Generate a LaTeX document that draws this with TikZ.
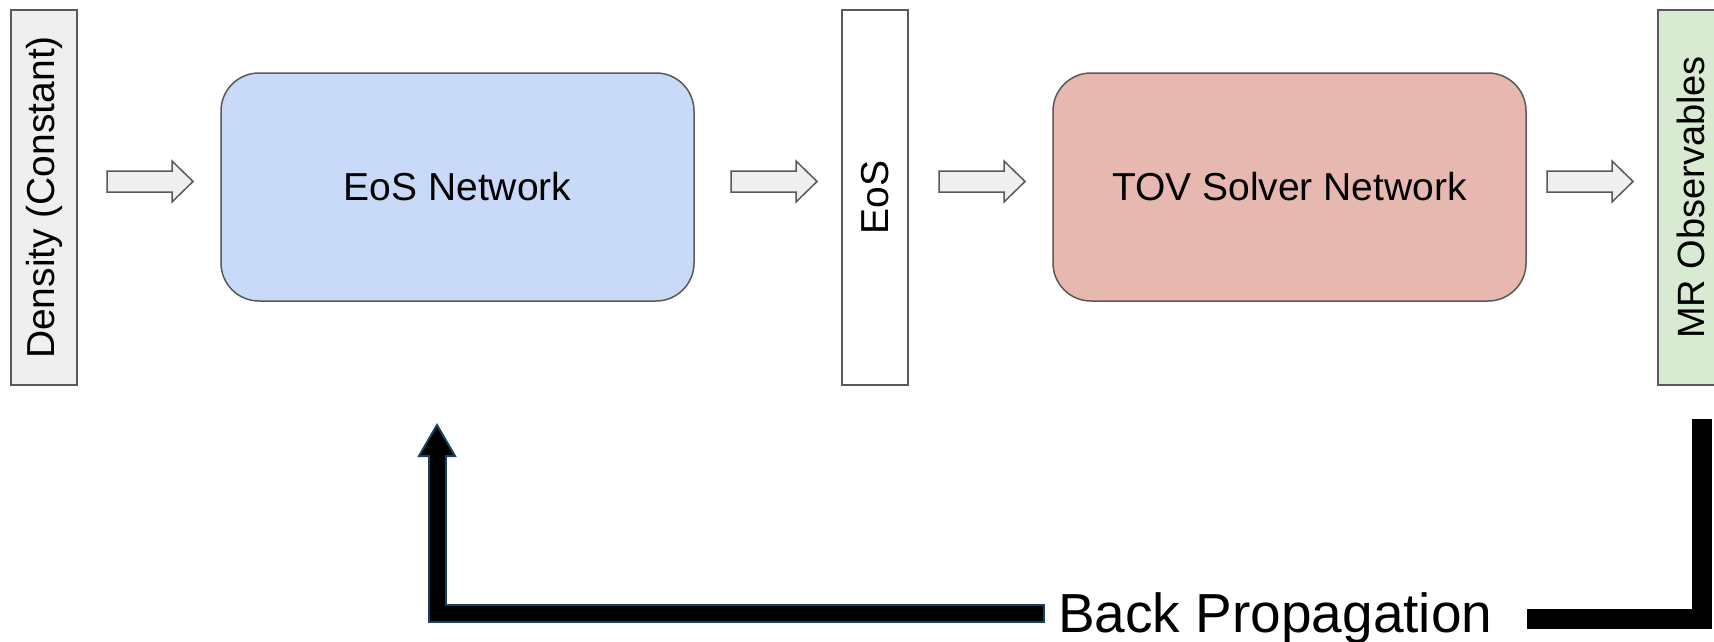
\documentclass[tikz,border=0pt]{standalone}
\usepackage{fontspec}
\setmainfont{Liberation Sans}
\definecolor{boxline}{HTML}{595959}
\definecolor{grayfill}{HTML}{EFEFEF}
\definecolor{bluefill}{HTML}{C9DAF8}
\definecolor{redfill}{HTML}{E6B8AF}
\definecolor{greenfill}{HTML}{D9EAD3}
\definecolor{bpblue}{RGB}{22,66,96}
\tikzset{
  box/.style={draw=boxline, line width=1.5pt, inner sep=0pt, font=\fontsize{39}{47}\selectfont},
  vbox/.style={box, rotate=90, minimum width=375pt, minimum height=66pt},
  netbox/.style={box, rounded corners=38pt, minimum width=473pt, minimum height=228pt},
  blockarr/.pic={\draw[draw=boxline, fill=grayfill, line width=1.5pt, line join=miter]
     (0,-10.5) -- (65,-10.5) -- (65,-20.5) -- (86,0) -- (65,20.5) -- (65,10.5) -- (0,10.5) -- cycle;},
  bpouter/.style={draw=bpblue, line width=19pt, line cap=butt, line join=miter},
  bpinner/.style={draw=black, line width=15pt, line cap=butt, line join=miter},
  backline/.style={draw=black, line width=20pt, line cap=butt, line join=miter},
}
\begin{document}
\begin{tikzpicture}[x=1pt,y=-1pt]
\useasboundingbox (0,0) rectangle (1714,641);
\clip (0,0) rectangle (1714,641);
\fill[white] (0,0) rectangle (1714,641);

\node[vbox, fill=grayfill] (dens) at (44,197.5) {Density (Constant)};
\node[netbox, fill=bluefill] (eosnet) at (457.5,187) {EoS Network};
\node[vbox, fill=white] (eos) at (875,197.5) {EoS};
\node[netbox, fill=redfill] (tov) at (1289.5,187) {TOV Solver Network};
\node[vbox, fill=greenfill, font=\fontsize{38}{46}\selectfont] (mr) at (1691,197.5) {MR Observables\hspace{16pt}};

\pic (a1) at (107,181.5) {blockarr};
\pic (a2) at (731,181.5) {blockarr};
\pic (a3) at (939,181.5) {blockarr};
\pic (a4) at (1547,181.5) {blockarr};

\node[anchor=base west, inner sep=0pt, font=\fontsize{55}{66}\selectfont] (bp) at (1058,632) {Back Propagation};

% left return arrow into EoS Network
\coordinate (bpstart) at (1045,613);
\coordinate (bpcorner) at (437,613);
\coordinate (bptop) at (437,452);
\coordinate (bptip) at (437,425);
\draw[bpouter] (bpstart) -- (bpcorner) -- (bptop);
\filldraw[fill=black, draw=bpblue, line width=2pt, line join=miter] (bptip) -- (455,456) -- (419,456) -- cycle;
\draw[bpinner] ([xshift=-2pt]bpstart) -- (bpcorner) -- ([yshift=-2pt]bptop);

% right L from MR Observables
\coordinate (rtop) at (1701.5,419);
\coordinate (rcorner) at (1701.5,618.5);
\coordinate (rend) at (1527,618.5);
\draw[backline] (rtop) -- (rcorner) -- (rend);
\end{tikzpicture}
\end{document}
